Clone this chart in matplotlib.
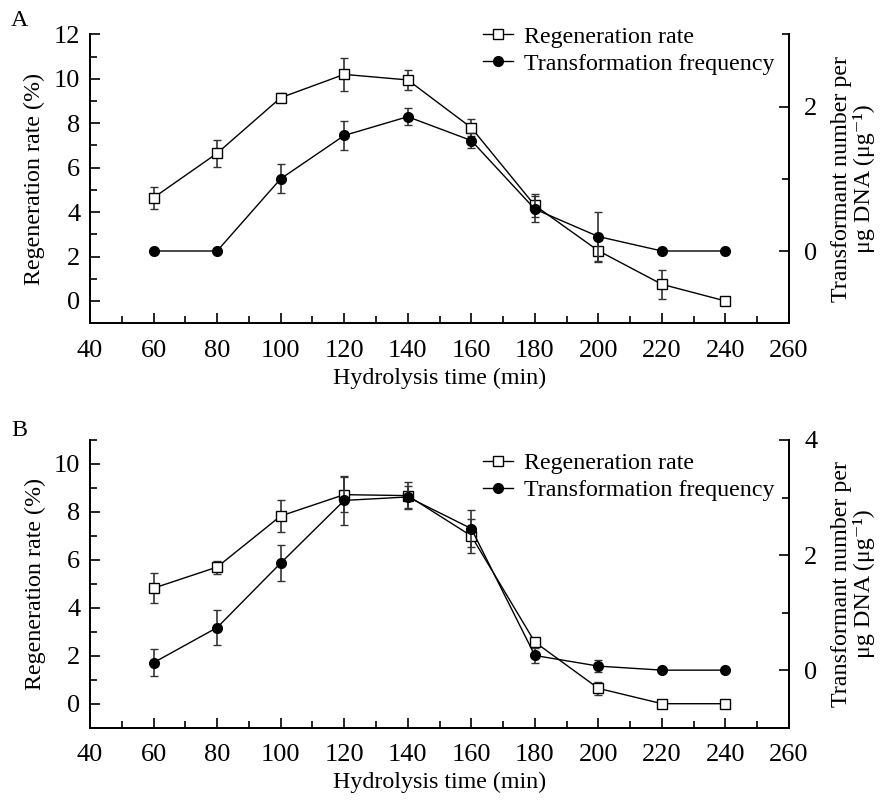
import matplotlib
matplotlib.use("Agg")
import matplotlib.pyplot as plt
from matplotlib.ticker import MultipleLocator
from matplotlib.lines import Line2D

plt.rcParams['font.family'] = ['Liberation Serif', 'DejaVu Serif']

time = [60, 80, 100, 120, 140, 160, 180, 200, 220, 240]

# Panel A
regenA = [4.65, 6.65, 9.15, 10.2, 9.95, 7.8, 4.3, 2.26, 0.75, 0.0]
regenA_err = [0.5, 0.6, 0.2, 0.75, 0.44, 0.38, 0.53, 0.5, 0.65, 0.0]
transA = [0.0, 0.0, 1.0, 1.6, 1.86, 1.53, 0.58, 0.2, 0.0, 0.0]
transA_err = [0.0, 0.0, 0.2, 0.2, 0.12, 0.1, 0.18, 0.34, 0.0, 0.0]

# Panel B
regenB = [4.82, 5.7, 7.83, 8.72, 8.68, 7.0, 2.57, 0.64, 0.0, 0.0]
regenB_err = [0.63, 0.27, 0.67, 0.74, 0.57, 0.7, 0.0, 0.28, 0.0, 0.0]
transB = [0.13, 0.74, 1.86, 2.95, 3.01, 2.46, 0.255, 0.07, 0.0, 0.0]
transB_err = [0.24, 0.3, 0.31, 0.43, 0.19, 0.32, 0.13, 0.11, 0.0, 0.0]

FS = 17.3
TFS = 19

fig = plt.figure(figsize=(8.81, 8.0), dpi=100)

def panel(rect, regen, rerr, trans, terr, lylim, rylim, lticks, rticks, rminor, letter, letter_y, leg_y):
    ax = fig.add_axes(rect)
    ax2 = ax.twinx()
    ax.errorbar(time, regen, yerr=rerr, color='black', ecolor='#333333', lw=1.0,
                elinewidth=1.2, capsize=3, capthick=1.0, marker='s', ms=6.5,
                mfc='white', mec='black', mew=1.0, zorder=3)
    ax2.errorbar(time, trans, yerr=terr, color='black', ecolor='#333333', lw=1.0,
                 elinewidth=1.2, capsize=3, capthick=1.0, marker='o', ms=7,
                 mfc='black', mec='black', zorder=3)
    ax.set_xlim(40, 260)
    ax.set_ylim(*lylim)
    ax2.set_ylim(*rylim)
    ax.set_xticks(range(40, 261, 20))
    ax.xaxis.set_minor_locator(MultipleLocator(10))
    ax.set_yticks(lticks)
    ax.yaxis.set_minor_locator(MultipleLocator(1))
    ax2.set_yticks(rticks)
    ax2.set_yticks(rminor, minor=True)
    for a in (ax, ax2):
        a.spines['top'].set_visible(False)
        for s in a.spines.values():
            s.set_linewidth(1.3)
        a.tick_params(which='major', direction='in', length=7, width=1.2, labelsize=TFS)
        a.tick_params(which='minor', direction='in', length=5, width=1.2)
    ax.tick_params(axis='x', which='both', top=False, pad=12)
    ax.tick_params(axis='y', pad=7)
    ax2.tick_params(axis='y', pad=11)
    ax.set_xlabel('Hydrolysis time (min)', fontsize=FS, labelpad=4)
    ax.set_ylabel('Regeneration rate (%)', fontsize=FS, labelpad=6)
    ax2.set_ylabel('Transformant number per\nμg DNA (μg⁻¹)', fontsize=FS,
                   labelpad=10, linespacing=1.05)
    fig.text(0.022, letter_y, letter, fontsize=FS, va='center', ha='center')
    handles = [
        Line2D([], [], color='black', lw=1.0, marker='s', ms=6.5, mfc='white', mec='black'),
        Line2D([], [], color='black', lw=1.0, marker='o', ms=7, mfc='black', mec='black'),
    ]
    ax.legend(handles, ['Regeneration rate', 'Transformation frequency'], loc='center left',
              bbox_to_anchor=(483 / 881, 1 - leg_y / 800), bbox_transform=fig.transFigure,
              frameon=False, fontsize=FS, handlelength=1.25, handletextpad=0.45,
              labelspacing=0.2, borderaxespad=0.0, borderpad=0.0)
    return ax, ax2

panel([0.1022, 0.596, 0.7934, 0.361], regenA, regenA_err, transA, transA_err,
      (-1, 12), (-1, 3), [0, 2, 4, 6, 8, 10, 12], [0, 2], [1, 3], 'A', 1 - 20 / 800, 50.3)
panel([0.1022, 0.0904, 0.7934, 0.3596], regenB, regenB_err, transB, transB_err,
      (-1, 11), (-1, 4), [0, 2, 4, 6, 8, 10], [0, 2, 4], [1, 3], 'B', 1 - 430 / 800, 476.7)

fig.savefig('out.png', dpi=100)
